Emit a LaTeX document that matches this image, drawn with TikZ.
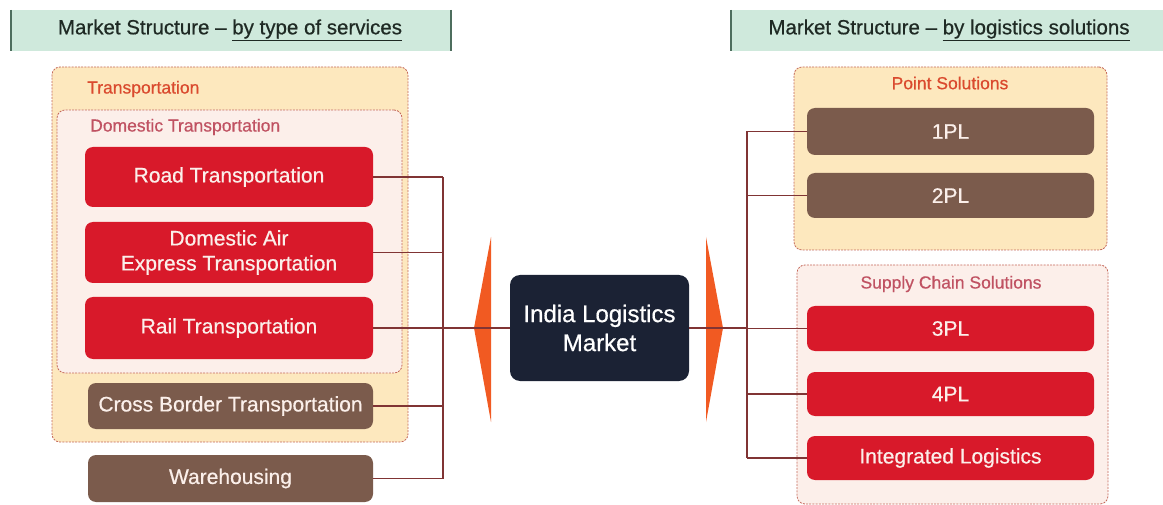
\documentclass[tikz,border=0pt]{standalone}
\usepackage{fontspec}
\setmainfont{Liberation Sans}
\newfontfamily\medfont[FakeBold=0.6,Ligatures=TeX]{Liberation Sans}
\definecolor{mint}{HTML}{CFE9DC}
\definecolor{barc}{HTML}{4E6E5E}
\definecolor{headtxt}{HTML}{1F2A24}
\definecolor{yel}{HTML}{FDE8BE}
\definecolor{pinkf}{HTML}{FCEFEA}
\definecolor{dashc}{HTML}{C4685A}
\definecolor{redb}{HTML}{D8192A}
\definecolor{brownb}{HTML}{7B5B4C}
\definecolor{linec}{HTML}{803434}
\definecolor{orng}{HTML}{F15A22}
\definecolor{navy}{HTML}{1B2234}
\definecolor{boxtxt}{HTML}{FBEFEA}
\definecolor{lblA}{HTML}{DA4A2E}
\definecolor{lblB}{HTML}{C05262}
\tikzset{
  container/.style={draw=dashc, line width=0.8pt, dash pattern=on 2pt off 1.2pt, rounded corners=8pt, inner sep=0pt},
  redbox/.style={fill=redb, rounded corners=8pt, text=boxtxt, align=center, inner sep=0pt, font=\medfont\fontsize{21}{25}\selectfont},
  brownbox/.style={fill=brownb, rounded corners=8pt, text=boxtxt, align=center, inner sep=0pt, font=\medfont\fontsize{21}{25}\selectfont},
  conn/.style={draw=linec, line width=1.1pt},
  headtext/.style={text=headtxt, font=\medfont\fontsize{20.5}{24}\selectfont},
  grouplbl/.style={font=\medfont\fontsize{17.5}{20}\selectfont, inner sep=0pt}
}
\begin{document}
\begin{tikzpicture}[x=1pt,y=-1pt]
\useasboundingbox (0,0) rectangle (1163,505);
% headers
\fill[mint] (10,10) rectangle (452,51);
\draw[barc, line width=2.5pt] (11,10) -- (11,51);
\draw[barc, line width=2.5pt] (451,10) -- (451,51);
\node[headtext] (h1) at (230,30) {Market Structure – \underline{by type of services}};
\fill[mint] (730,10) rectangle (1163,51);
\draw[barc, line width=2.5pt] (731,10) -- (731,51);
\node[headtext] (h2) at (949,30) {Market Structure – \underline{by logistics solutions}};

% containers
\node[container, fill=yel, minimum width=356pt, minimum height=375pt] (trans) at (230,254.5) {};
\node[container, fill=pinkf, minimum width=345pt, minimum height=263pt] (dom) at (229.5,241.5) {};
\node[container, fill=yel, minimum width=313pt, minimum height=183pt] (point) at (950.5,158.5) {};
\node[container, fill=pinkf, minimum width=311pt, minimum height=239pt] (supply) at (952.5,384.5) {};

\node[grouplbl, text=lblA, anchor=west] (transl) at (87,89) {Transportation};
\node[grouplbl, text=lblB, anchor=west] (doml) at (90,127) {Domestic Transportation};
\node[grouplbl, text=lblA] (pointl) at (950,83) {Point Solutions};
\node[grouplbl, text=lblB] (supplyl) at (951,284) {Supply Chain Solutions};

% left boxes
\node[redbox, minimum width=288pt, minimum height=60pt] (road) at (229,177) {Road Transportation};
\node[redbox, minimum width=288pt, minimum height=61pt] (air) at (229,252.5) {Domestic Air\\Express Transportation};
\node[redbox, minimum width=288pt, minimum height=62pt] (rail) at (229,328) {Rail Transportation};
\node[brownbox, minimum width=285pt, minimum height=46pt] (cross) at (230.5,406) {Cross Border Transportation};
\node[brownbox, minimum width=285pt, minimum height=47pt] (ware) at (230.5,478.5) {Warehousing};

% right boxes
\node[brownbox, minimum width=287pt, minimum height=47pt] (p1) at (950.5,131.5) {1PL};
\node[brownbox, minimum width=287pt, minimum height=45pt] (p2) at (950.5,195.5) {2PL};
\node[redbox, minimum width=287pt, minimum height=45pt] (p3) at (950.5,328.5) {3PL};
\node[redbox, minimum width=287pt, minimum height=44pt] (p4) at (950.5,394) {4PL};
\node[redbox, minimum width=287pt, minimum height=44pt] (integ) at (950.5,458) {Integrated Logistics};

% center
\node[fill=navy, rounded corners=10pt, minimum width=179pt, minimum height=106pt, text=white, align=center, font=\medfont\fontsize{24}{29}\selectfont] (market) at (599.5,328) {India Logistics\\Market};

% orange arrows (under the connector line)
\fill[orng] (491,237) -- (474,328) -- (491,422) -- cycle;
\fill[orng] (706,237) -- (723,328) -- (706,422) -- cycle;

% connectors
\coordinate (jl) at (443,328);
\coordinate (jr) at (747,328);
\foreach \b in {road,air,rail,cross,ware} {
  \draw[conn] (\b.east) -- (\b.east -| jl);
}
\draw[conn] (road.east -| jl) -- (ware.east -| jl);
\foreach \b in {p1,p2,p3,p4,integ} {
  \draw[conn] (\b.west) -- (\b.west -| jr);
}
\draw[conn] (p1.west -| jr) -- (integ.west -| jr);
\draw[conn] (jl) -- (market.west);
\draw[conn] (market.east) -- (jr);
\end{tikzpicture}
\end{document}
